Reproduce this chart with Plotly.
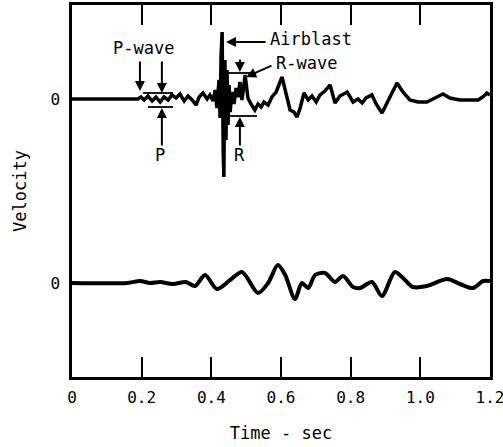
import plotly.graph_objects as go

# ---- data (time in s, velocity in arbitrary units) ----
upper_t = [0.000, 0.189, 0.198, 0.207, 0.218, 0.230, 0.241, 0.253, 0.264, 0.276, 0.287, 0.299,
           0.310, 0.322, 0.333, 0.345, 0.356, 0.365, 0.376, 0.388, 0.396, 0.405, 0.411, 0.416,
           0.422, 0.425, 0.428, 0.431, 0.434, 0.436, 0.439, 0.442, 0.445, 0.448, 0.451, 0.454,
           0.459, 0.465, 0.471, 0.477, 0.482, 0.488, 0.497, 0.505, 0.514, 0.525, 0.534, 0.543,
           0.551, 0.563, 0.574, 0.586, 0.603, 0.614, 0.626, 0.637, 0.646, 0.655, 0.666, 0.678,
           0.689, 0.701, 0.712, 0.726, 0.741, 0.755, 0.769, 0.790, 0.807, 0.821, 0.833, 0.844,
           0.861, 0.873, 0.890, 0.910, 0.933, 0.950, 0.970, 0.993, 1.019, 1.042, 1.065, 1.085,
           1.114, 1.143, 1.166, 1.183, 1.191, 1.200]
upper_v = [0.0, 0.0, 0.2, -0.1, 0.3, -0.2, 0.2, -0.3, 0.2, -0.1, 0.4, 0.1,
           0.5, -0.2, 0.3, -0.1, -0.6, 0.2, 0.6, 0.0, 0.4, -0.2, 0.9, -0.9,
           1.9, -1.9, 4.4, 6.7, -5.1, -7.8, 3.9, -4.1, 2.9, -2.6, 1.4, -1.3,
           0.7, -0.5, 1.1, 0.2, 1.7, -0.1, 2.4, 0.1, -0.5, -1.1, -0.5, -0.8,
           -0.3, -0.6, 0.2, 0.7, 2.2, 0.7, -1.1, -1.3, -1.8, -0.9, 0.6, -0.1,
           0.3, -0.3, 0.4, 0.8, 1.4, -0.4, 0.3, 0.7, -0.3, 0.0, -0.4, 0.1,
           0.4, -0.5, -1.4, 0.0, 1.6, 0.7, -0.1, -0.3, -0.3, 0.1, 0.5, 0.1,
           -0.1, -0.1, -0.1, 0.3, 0.6, 0.4]

lower_t = [0.000, 0.158, 0.195, 0.224, 0.253, 0.290, 0.327, 0.353, 0.382, 0.416, 0.454, 0.488,
           0.534, 0.563, 0.591, 0.612, 0.640, 0.660, 0.678, 0.698, 0.726, 0.755, 0.778, 0.807,
           0.827, 0.861, 0.890, 0.927, 0.956, 0.979, 1.019, 1.077, 1.114, 1.151, 1.180, 1.200]
lower_v = [0.0, 0.0, 0.2, 0.0, 0.1, -0.1, 0.1, -0.3, 0.8, -0.6, 0.3, 1.1,
           -1.0, 0.0, 1.8, 0.8, -1.6, 0.0, -0.5, 0.8, 1.0, 0.1, 0.7, -0.4,
           -0.5, 0.1, -1.3, 1.1, 0.3, -0.4, -0.3, 0.4, -0.1, -0.5, 0.2, 0.2]

x_ticks = [0, 0.2, 0.4, 0.6, 0.8, 1.0, 1.2]
x_tick_text = ["0", "0.2", "0.4", "0.6", "0.8", "1.0", "1.2"]

UPPER_ZERO = 27.8
LOWER_ZERO = 9.4
Y_MAX = 37.2

FONT = "DejaVu Sans Mono"

fig = go.Figure()
fig.add_trace(go.Scatter(x=upper_t, y=[UPPER_ZERO + v for v in upper_v], mode="lines",
                         line=dict(color="black", width=3.5), showlegend=False))
fig.add_trace(go.Scatter(x=lower_t, y=[LOWER_ZERO + v for v in lower_v], mode="lines",
                         line=dict(color="black", width=4, shape="spline", smoothing=0.8),
                         showlegend=False))

# measurement brackets
for x0, x1, y in [(0.204, 0.290, 28.4), (0.218, 0.290, 27.0),
                  (0.448, 0.511, 30.4), (0.454, 0.531, 26.1)]:
    fig.add_shape(type="line", x0=x0, x1=x1, y0=y, y1=y, xref="x", yref="y",
                  line=dict(color="black", width=1.8))

# arrows (head at x,y ; tail at ax,ay)
arrows = [
    (0.195, 28.6, 0.195, 31.7),
    (0.258, 28.4, 0.258, 31.7),
    (0.258, 26.9, 0.258, 23.0),
    (0.442, 33.5, 0.560, 33.5),
    (0.500, 30.0, 0.577, 31.2),
    (0.482, 30.5, 0.482, 31.9),
    (0.482, 26.0, 0.482, 23.0),
]
for x, y, ax, ay in arrows:
    fig.add_annotation(x=x, y=y, ax=ax, ay=ay, xref="x", yref="y", axref="x", ayref="y",
                       text="", showarrow=True, arrowhead=2, arrowsize=1, arrowwidth=2,
                       arrowcolor="black")

labels = [
    ("P-wave", 0.204, 32.9, "center"),
    ("Airblast", 0.563, 33.8, "left"),
    ("R-wave", 0.580, 31.4, "left"),
    ("P", 0.253, 22.2, "center"),
    ("R", 0.482, 22.2, "center"),
]
for txt, x, y, xa in labels:
    fig.add_annotation(x=x, y=y, xref="x", yref="y", text=txt, showarrow=False,
                       xanchor=xa, yanchor="middle",
                       font=dict(family=FONT, size=17, color="black"))

fig.update_layout(
    width=503, height=447,
    margin=dict(l=72, r=13, t=5, b=70, autoexpand=False),
    plot_bgcolor="white", paper_bgcolor="white",
    font=dict(family=FONT, size=16, color="black"),
)
fig.update_xaxes(range=[0, 1.2], tickvals=x_ticks, ticktext=x_tick_text,
                 ticks="inside", ticklen=20, tickwidth=2, tickcolor="black",
                 showline=True, linewidth=2.5, linecolor="black", mirror="ticks",
                 showgrid=False, zeroline=False, ticklabeloverflow="allow",
                 ticklabelstandoff=4, automargin=False,
                 title=dict(text="Time - sec", standoff=22, font=dict(family=FONT, size=17)))
fig.update_yaxes(range=[0, Y_MAX], tickvals=[UPPER_ZERO, LOWER_ZERO], ticktext=["0", "0"],
                 ticks="", showline=True, linewidth=2.5, linecolor="black", mirror=True,
                 showgrid=False, zeroline=False, ticklabelstandoff=6, automargin=False,
                 title=dict(text="Velocity", standoff=20, font=dict(family=FONT, size=17)))

fig.write_html("out.html")
